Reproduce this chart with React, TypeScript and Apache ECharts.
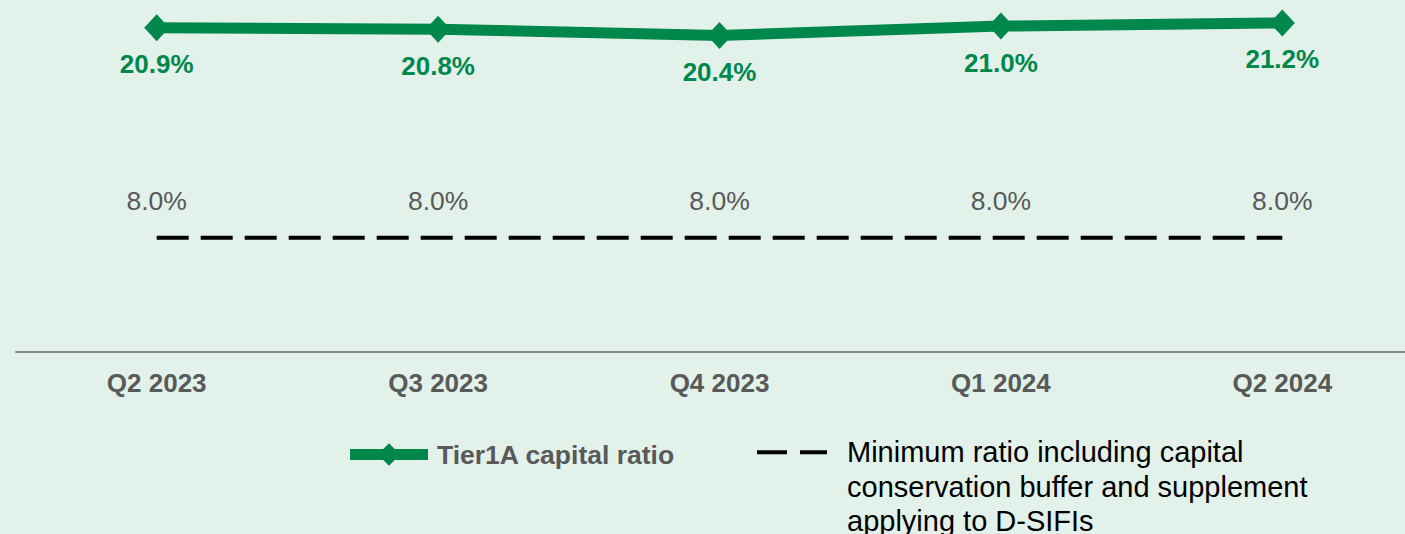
import React, { useEffect, useRef } from 'react';
import * as echarts from 'echarts';

const categories = ['Q2 2023', 'Q3 2023', 'Q4 2023', 'Q1 2024', 'Q2 2024'];
const tier1A = [20.9, 20.8, 20.4, 21.0, 21.2];
const minimumRatio = [8.0, 8.0, 8.0, 8.0, 8.0];
const tierName = 'Tier1A capital ratio';
const minName = 'Minimum ratio including capital conservation buffer and supplement applying to D-SIFIs';
const minLegendLines = ['Minimum ratio including capital', 'conservation buffer and supplement', 'applying to D-SIFIs'];

const GREEN = '#00874b';
const GREY = '#595959';
const BG = '#e2f1ea';
const FONT = "Arial, 'Liberation Sans', Helvetica, sans-serif";

export default function App() {
  const ref = useRef<HTMLDivElement>(null);
  useEffect(() => {
    document.body.style.margin = '0';
    const chart = echarts.init(ref.current!, null, { renderer: 'svg' });
    chart.setOption({
      animation: false,
      backgroundColor: BG,
      textStyle: { fontFamily: FONT },
      grid: { left: 16, width: 1407, top: 0, height: 352, containLabel: false, outerBoundsMode: 'none' },
      xAxis: {
        type: 'category',
        data: categories,
        boundaryGap: true,
        axisLine: { lineStyle: { color: '#898989', width: 2 } },
        axisTick: { show: false },
        axisLabel: { color: GREY, fontWeight: 'bold', fontSize: 26, margin: 18, fontFamily: FONT },
      },
      yAxis: [
        { type: 'value', min: 0, max: 22.68, show: false, splitLine: { show: false } },
        { type: 'value', min: 0, max: 24.63, show: false, splitLine: { show: false } },
      ],
      legend: [
        {
          left: 344.5,
          top: 441,
          padding: 0,
          itemWidth: 78,
          itemHeight: 28,
          selectedMode: false,
          data: [tierName],
          lineStyle: { width: 11, color: GREEN },
          textStyle: { color: GREY, fontWeight: 'bold', fontSize: 26.5, fontFamily: FONT, padding: [0, 0, 0, 4] },
        },
        {
          left: 755,
          top: 366,
          padding: 0,
          itemWidth: 70,
          itemHeight: 10,
          selectedMode: false,
          data: [minName],
          formatter: () => '\n\n' + minLegendLines.join('\n'),
          lineStyle: { type: [30, 13], width: 4, color: '#000' },
          textStyle: { color: '#000', fontSize: 29, lineHeight: 34.5, fontFamily: FONT, padding: [0, 0, 0, 15] },
        },
      ],
      series: [
        {
          name: tierName,
          type: 'line',
          yAxisIndex: 0,
          data: tier1A,
          symbol: 'diamond',
          symbolSize: [25, 27],
          lineStyle: { color: GREEN, width: 11 },
          itemStyle: { color: GREEN },
          z: 3,
          label: {
            show: true,
            position: 'bottom',
            distance: 10,
            formatter: (p: any) => Number(p.value).toFixed(1) + '%',
            color: GREEN,
            fontWeight: 'bold',
            fontSize: 26,
            fontFamily: FONT,
          },
        },
        {
          name: minName,
          type: 'line',
          yAxisIndex: 1,
          data: minimumRatio,
          symbol: 'circle',
          symbolSize: 4,
          showSymbol: true,
          lineStyle: { color: '#000', width: 4, type: [32, 12] },
          itemStyle: { color: 'rgba(0,0,0,0)', borderWidth: 0 },
          z: 2,
          label: {
            show: true,
            position: 'top',
            distance: 21,
            formatter: (p: any) => Number(p.value).toFixed(1) + '%',
            color: GREY,
            fontSize: 26.5,
            fontFamily: FONT,
          },
        },
      ],
    });
    return () => chart.dispose();
  }, []);
  return (
    <div
      ref={ref}
      style={{ position: 'fixed', left: 0, top: 0, width: 1405, height: 534, background: BG }}
    />
  );
}
